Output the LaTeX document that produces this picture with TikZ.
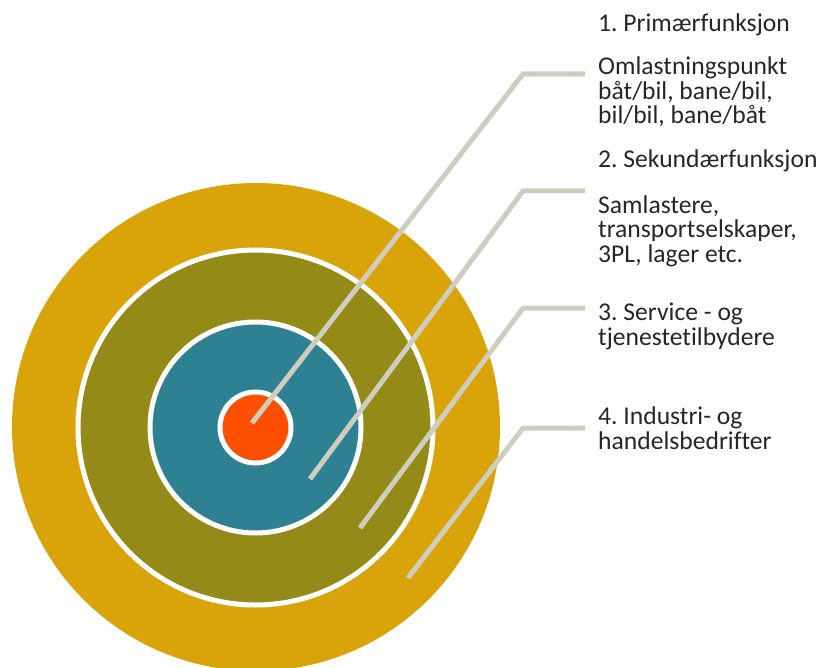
\documentclass[tikz,border=0pt]{standalone}
\usepackage{fontspec}
\setmainfont{Carlito}[Ligatures={NoCommon}]
\frenchspacing
\definecolor{ringgold}{HTML}{D9A40A}
\definecolor{ringolive}{HTML}{938A17}
\definecolor{ringteal}{HTML}{2E8093}
\definecolor{ringred}{HTML}{FC5000}
\definecolor{leader}{HTML}{CFCDBE}
\definecolor{labeltext}{HTML}{262626}
\begin{document}
\begin{tikzpicture}[x=1pt,y=-1pt,
  ring/.style={draw=white,line width=5pt},
  leaderline/.style={draw=leader,line width=5pt,line join=miter},
  lbl/.style={anchor=base west,inner sep=0pt,align=left,text=labeltext,
    font=\fontsize{25.6}{24.5}\selectfont\frenchspacing}]
\useasboundingbox (0,0) rectangle (824,668);
% rings
\fill[ringgold] (256,427) circle (244);
\filldraw[ring,fill=ringolive] (255.5,427.5) circle (177.5);
\filldraw[ring,fill=ringteal] (255.5,427.5) circle (105.5);
\filldraw[ring,fill=ringred] (255.5,427.5) circle (35.5);
% leader coordinates
\coordinate (s1) at (252,423); \coordinate (b1) at (523,74);  \coordinate (e1) at (585,74);
\coordinate (s2) at (310,479); \coordinate (b2) at (523,191); \coordinate (e2) at (585,191);
\coordinate (s3) at (360,528); \coordinate (b3) at (523,308); \coordinate (e3) at (585,308);
\coordinate (s4) at (408,578); \coordinate (b4) at (523,428); \coordinate (e4) at (585,428);
\draw[leaderline] (s1) -- (b1) -- (e1);
\draw[leaderline] (s2) -- (b2) -- (e2);
\draw[leaderline] (s3) -- (b3) -- (e3);
\draw[leaderline] (s4) -- (b4) -- (e4);
% labels (base anchor of a multi-line node is its last line)
\node[lbl] (t1) at (598,32) {1. Primærfunksjon};
\node[lbl] (d1) at (598,124) {Omlastningspunkt\\båt/bil, bane/bil,\\bil/bil, bane/båt};
\node[lbl] (t2) at (598,168) {2. Sekundærfunksjon};
\node[lbl] (d2) at (598,262) {Samlastere,\\transportselskaper,\\3PL, lager etc.};
\node[lbl] (t3) at (598,345) {3. Service - og\\tjenestetilbydere};
\node[lbl] (t4) at (598,449) {4. Industri- og\\handelsbedrifter};
\end{tikzpicture}
\end{document}
